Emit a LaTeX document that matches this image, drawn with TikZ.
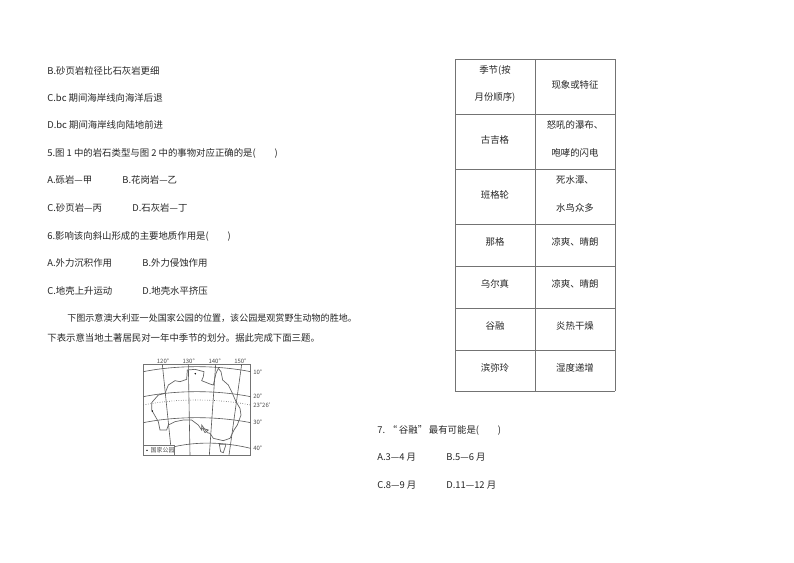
\documentclass[tikz,border=0pt]{standalone}
\usepackage{fontspec}
\setmainfont{Noto Sans CJK SC}
\tikzset{
  line/.style={anchor=west, inner sep=0pt, text=black!85, font=\fontsize{5.35}{7}\selectfont},
  cell/.style={inner sep=0pt, align=center, text=black!85, font=\fontsize{5.35}{15.6}\selectfont},
  tick/.style={inner sep=0pt, text=black!70, font=\fontsize{3.4}{4}\selectfont},
  grat/.style={black!65, line width=0.35pt},
  rule/.style={black!55, line width=0.5pt}
}
\begin{document}
\begin{tikzpicture}[x=0.02cm, y=-0.02cm]
\useasboundingbox (0,0) rectangle (794,562);
% left column
\node[line] (qb) at (47,71) {B.砂页岩粒径比石灰岩更细};
\node[line] (qc) at (47,98) {C.bc 期间海岸线向海洋后退};
\node[line] (qd) at (47,125) {D.bc 期间海岸线向陆地前进};
\node[line] (five) at (47,153) {5.图 1 中的岩石类型与图 2 中的事物对应正确的是(\quad\quad)};
\node[line] (fivea) at (47,180) {A.砾岩—甲};
\node[line] (fiveb) at (122,180) {B.花岗岩—乙};
\node[line] (fivec) at (47,208) {C.砂页岩—丙};
\node[line] (fived) at (132,208) {D.石灰岩—丁};
\node[line] (six) at (47,236) {6.影响该向斜山形成的主要地质作用是(\quad\quad)};
\node[line] (sixa) at (47,263) {A.外力沉积作用};
\node[line] (sixb) at (142,263) {B.外力侵蚀作用};
\node[line] (sixc) at (47,291) {C.地壳上升运动};
\node[line] (sixd) at (142,291) {D.地壳水平挤压};
\node[line, font=\fontsize{5.15}{7}\selectfont] (introa) at (67,318) {下图示意澳大利亚一处国家公园的位置，该公园是观赏野生动物的胜地。};
\node[line] (introb) at (47,338) {下表示意当地土著居民对一年中季节的划分。据此完成下面三题。};
% map, in 1/3 pixel units
\begin{scope}[shift={(130,350)}, x=0.00667cm, y=-0.00667cm]
\draw[rule] (40,43) rectangle (362,316);
\draw[grat] (97,43) -- (122,285);
\draw[grat] (175,43) -- (180,316);
\draw[grat] (257,43) -- (238,316);
\draw[grat] (335,43) -- (297,316);
\draw[grat] (40,65) .. controls (140,45) and (260,45) .. (362,65);
\draw[grat] (40,140) .. controls (140,120) and (260,120) .. (362,140);
\draw[grat, densely dotted] (40,165) .. controls (140,145) and (260,145) .. (362,165);
\draw[grat] (40,218) .. controls (140,198) and (260,198) .. (362,218);
\draw[grat] (133,290) .. controls (200,275) and (280,275) .. (362,295);
\draw[black!60, line width=0.4pt] (65,158) -- (85,135) -- (105,130) -- (115,105) -- (135,92) -- (150,95) -- (170,88) -- (172,60) -- (195,58) -- (222,65) -- (220,80) -- (215,92) -- (240,102) -- (250,105) -- (258,70) -- (265,55) -- (273,65) -- (278,90) -- (295,105) -- (305,125) -- (318,155) -- (330,175) -- (333,195) -- (322,225) -- (312,240) -- (300,265) -- (280,272) -- (250,265) -- (240,250) -- (232,248) -- (215,225) -- (215,240) -- (205,225) -- (185,210) -- (160,210) -- (135,215) -- (115,225) -- (110,240) -- (90,240) -- (85,215) -- (65,180) -- cycle;
\draw[black!60, line width=0.4pt] (218,235) -- (235,240) -- (225,248) -- cycle;
\draw[black!60, line width=0.4pt] (268,283) -- (288,283) -- (280,308) -- (272,305) -- cycle;
\fill[black] (196,71) circle (2.5) (67,183) circle (2.5);
\draw[rule, fill=white] (40,285) rectangle (133,316);
\fill[black] (51,301) circle (2.5);
\node[tick, anchor=west] (legend) at (61,300) {国家公园};
\node[tick] (lona) at (99,33) {120°};
\node[tick] (lonb) at (176,33) {130°};
\node[tick] (lonc) at (254,33) {140°};
\node[tick] (lond) at (331,33) {150°};
\node[tick, anchor=west] (lata) at (369,66) {10°};
\node[tick, anchor=west] (latb) at (369,140) {20°};
\node[tick, anchor=west] (latc) at (369,166) {23°26′};
\node[tick, anchor=west] (latd) at (369,218) {30°};
\node[tick, anchor=west] (late) at (369,294) {40°};
\end{scope}
% table
\foreach \ypos in {59,114,169,224,266,308,350,391}
  \draw[rule] (455,\ypos) -- (615,\ypos);
\foreach \xpos in {455,535,615}
  \draw[rule] (\xpos,59) -- (\xpos,391);
\node[cell] (heada) at (495,84) {季节(按\\月份顺序)};
\node[cell] (headb) at (575,85) {现象或特征};
\node[cell] (seasa) at (495,140) {古吉格};
\node[cell] (feata) at (575,139) {怒吼的瀑布、\\咆哮的闪电};
\node[cell] (seasb) at (495,195) {班格轮};
\node[cell] (featb) at (575,194) {死水潭、\\水鸟众多};
\node[cell] (seasc) at (495,242) {那格};
\node[cell] (featc) at (575,242) {凉爽、晴朗};
\node[cell] (seasd) at (495,284) {乌尔真};
\node[cell] (featd) at (575,284) {凉爽、晴朗};
\node[cell] (sease) at (495,326) {谷融};
\node[cell] (feate) at (575,326) {炎热干燥};
\node[cell] (seasf) at (495,368) {滨弥玲};
\node[cell] (featf) at (575,368) {湿度递增};
% question 7
\node[line] (seven) at (377,430) {7.\hspace{1.5pt}“\hspace{1pt}谷融”\hspace{1pt}最有可能是(\quad\quad)};
\node[line] (sevena) at (377,457) {A.3—4 月};
\node[line] (sevenb) at (446,457) {B.5—6 月};
\node[line] (sevenc) at (377,485) {C.8—9 月};
\node[line] (sevend) at (446,485) {D.11—12 月};
\end{tikzpicture}
\end{document}
